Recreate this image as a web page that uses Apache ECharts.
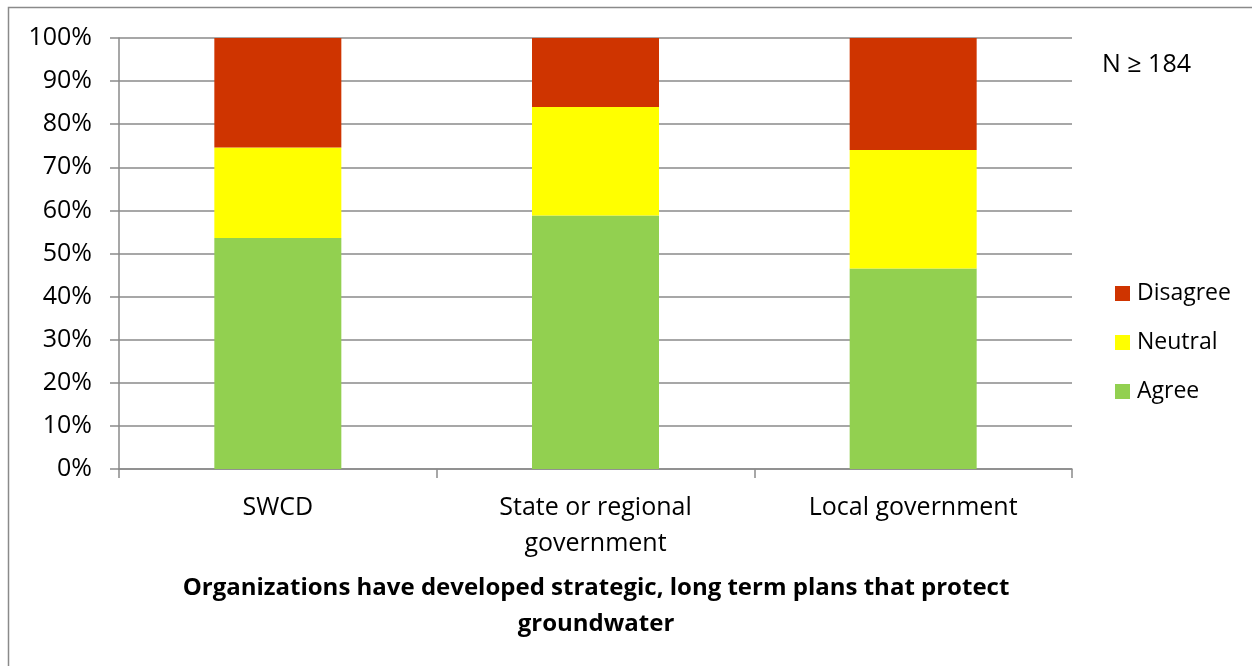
<!DOCTYPE html>
<html>
<head>
<meta charset="utf-8">
<script src="https://cdn.jsdelivr.net/npm/echarts@6/dist/echarts.min.js"></script>
<style>
  html, body { margin: 0; padding: 0; background: #fff; }
  #chart { width: 1252px; height: 666px; }
</style>
</head>
<body>
<div id="chart"></div>
<script>
// Survey response shares (%) per organization type
const categories = ['SWCD', 'State or regional\ngovernment', 'Local government'];
const agree = [53.6, 58.8, 46.5];
const neutral = [21.0, 25.2, 27.5];
const disagree = [25.4, 16.0, 26.0];
const yTicks = { min: 0, max: 100, interval: 10 };
const titleText = 'Organizations have developed strategic, long term plans that protect\ngroundwater';
const noteText = 'N \u2265 184';

const FONT = '"Open Sans", "Liberation Sans", sans-serif';
const axisGray = '#8a8a8a';

const chart = echarts.init(document.getElementById('chart'), null, { renderer: 'canvas' });

const barSeries = (name, data, color) => ({
  name, type: 'bar', stack: 'total', data,
  barWidth: 127,
  itemStyle: { color },
  emphasis: { disabled: true }
});

chart.setOption({
  animation: false,
  backgroundColor: '#ffffff',
  textStyle: { fontFamily: FONT },
  grid: { left: 119, right: 180, top: 38, bottom: 197, containLabel: false },
  legend: {
    orient: 'vertical',
    left: 1110,
    top: 277,
    itemWidth: 15,
    itemHeight: 15,
    itemGap: 26,
    icon: 'rect',
    data: ['Disagree', 'Neutral', 'Agree'],
    textStyle: { fontFamily: FONT, fontSize: 23, color: '#000', padding: [0, 0, 0, 2] }
  },
  xAxis: {
    type: 'category',
    data: categories,
    boundaryGap: true,
    axisLine: { show: true, lineStyle: { color: axisGray, width: 1.5 } },
    axisTick: { show: true, length: 9, alignWithLabel: false, lineStyle: { color: axisGray, width: 1.5 } },
    axisLabel: { fontFamily: FONT, fontSize: 25, color: '#000', margin: 21, lineHeight: 36 }
  },
  yAxis: {
    type: 'value',
    min: yTicks.min,
    max: yTicks.max,
    interval: yTicks.interval,
    axisLine: { show: true, lineStyle: { color: axisGray, width: 1.5 } },
    axisTick: { show: true, length: 9, inside: false, lineStyle: { color: axisGray, width: 1.5 } },
    splitLine: { show: true, lineStyle: { color: axisGray, width: 1.5 } },
    axisLabel: { fontFamily: FONT, fontSize: 25, color: '#000', margin: 27, formatter: '{value}%' }
  },
  series: [
    barSeries('Agree', agree, '#92D050'),
    barSeries('Neutral', neutral, '#FFFF00'),
    barSeries('Disagree', disagree, '#CF3400')
  ],
  graphic: [
    {
      type: 'rect', silent: true, z: -1,
      shape: { x: 8.5, y: 7.5, width: 1400, height: 800 },
      style: { fill: 'none', stroke: '#8a8a8a', lineWidth: 1.5 }
    },
    {
      type: 'text', silent: true,
      x: 1102, y: 65,
      style: { text: noteText, fontFamily: FONT, fontSize: 25, fill: '#000', textVerticalAlign: 'middle' }
    },
    {
      type: 'text', silent: true,
      x: 596, y: 570,
      style: {
        text: titleText, fontFamily: FONT, fontSize: 24, fontWeight: 'bold',
        fill: '#000', textAlign: 'center', lineHeight: 36
      }
    }
  ]
});
</script>
</body>
</html>
